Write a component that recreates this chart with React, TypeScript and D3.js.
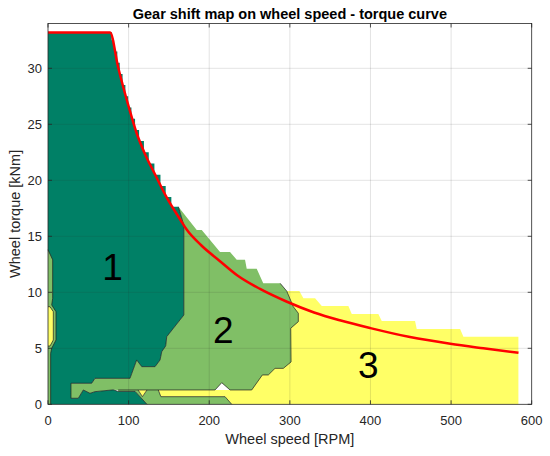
import React from 'react';
import * as d3 from 'd3';

type P = [number, number];

const xTicks = [0, 100, 200, 300, 400, 500, 600];
const yTicks = [0, 5, 10, 15, 20, 25, 30];

// Max torque / constant power curve (RPM, kNm)
const torqueCurve: P[] = [
  [0, 33.2], [77, 33.2], [87, 30.1], [100, 26.6], [110, 24.2], [120, 22.4], [133, 20.5],
  [147, 18.5], [164, 16.5], [172, 15.6], [190, 14.2], [213, 12.8], [235, 11.5], [263, 10.3],
  [295, 9.2], [330, 8.2], [362, 7.5], [400, 6.8], [449, 6.0], [499, 5.4], [540, 5.0], [583.6, 4.6],
];

// Gear 1 (dark green) stepped upper edge
const gear1Top: P[] = [
  [0, 33.25], [79, 33.25], [79, 32.5], [82, 32.5], [82, 31.5], [86, 31.5], [86, 30.5], [89, 30.5],
  [89, 29.5], [92.5, 29.5], [92.5, 28.5], [96, 28.5], [96, 27.5], [99.5, 27.5], [99.5, 26.5],
  [103.5, 26.5], [103.5, 25.5], [108, 25.5], [108, 24.5], [113, 24.5], [113, 23.5], [119, 23.5],
  [119, 22.5], [125, 22.5], [125, 21.5], [132, 21.5], [132, 20.5], [139.5, 20.5], [139.5, 19.5],
  [146, 19.5], [146, 18.5], [153, 18.5], [153, 17.64],
];

// Boundary gear 1 / gear 2
const border12: P[] = [
  [161.7, 17.64], [168.5, 16.0], [168.5, 7.97], [147.3, 6.04], [146, 5.21], [141.1, 4.7], [139, 3.96],
  [132.8, 3.36], [116.3, 3.36], [110, 3.96], [101.7, 2.32], [58.3, 2.32], [54.2, 1.88], [28.5, 1.88],
  [28.5, 0.54], [37.6, 0.54], [43.8, 1.28], [52.1, 0.98], [58.3, 1.13], [81, 1.29], [87, 1.15],
  [108, 1.15], [122.8, 0],
];

// Gear 2 (light green) stepped upper edge
const gear2Top: P[] = [
  [161.7, 17.64], [184.5, 15.56], [190.7, 15.56], [213.4, 13.6], [225.8, 13.6], [234.1, 12.9],
  [244.4, 12.9], [246.5, 12.1], [258.9, 12.1], [267, 10.8], [288, 10.8],
];

// Boundary gear 2 / gear 3
const border23: P[] = [
  [288, 10.8], [296.2, 10.1], [304.3, 8.71], [310.5, 8.13], [310.5, 7.38], [301.1, 6.79],
  [301.5, 3.78], [291.9, 3.21], [281.6, 3.21], [273.3, 2.62], [265.9, 2.62], [252.7, 1.28],
  [225.8, 1.28], [215.5, 1.93], [207.2, 1.28], [87, 1.28],
];

// Gear 3 (yellow) stepped upper edge
const gear3Top: P[] = [
  [583.5, 0], [583.5, 6.04], [515.3, 6.04], [511.2, 6.72], [457.4, 6.72], [455.3, 7.44], [414, 7.44],
  [409.8, 8.06], [376.8, 8.06], [372.6, 8.78], [339.6, 8.78], [331.3, 9.46], [316.8, 9.46],
  [311.8, 10.12], [296.2, 10.12],
];

const gear3Strip: P[] = [[136.8, 1.28], [140, 0.68], [219.6, 0.68], [227.9, 0]];
const gear3Notch: P[] = [[111.7, 1.28], [117.2, 0.68], [122.8, 1.28]];
const gear2LeftStrip: P[] = [
  [0, 13.8], [5.8, 12.9], [5.8, 9.46], [4.6, 8.87], [9.9, 8.27], [9.9, 5.74], [4.6, 5.0], [3.3, 4.55], [3.3, 0],
];
const gear3Pocket: P[] = [[0, 8.71], [2.5, 8.71], [6.6, 8.27], [6.6, 5.74], [2.5, 5.2], [0, 5.2]];

const gearLabels = [
  { text: '1', x: 80, y: 11.1 },
  { text: '2', x: 217.5, y: 5.45 },
  { text: '3', x: 397.3, y: 2.32 },
];

const C1 = '#008066';
const C2 = '#80bf66';
const C3 = '#ffff66';
const AX = '#262626';
const FONT = '"Liberation Sans", Arial, Helvetica, sans-serif';

export default function App() {
  const x = d3.scaleLinear().domain([0, 600]).range([48, 531.7]);
  const y = d3.scaleLinear().domain([0, 34]).range([404.3, 23.5]);
  const line = d3.line<P>().x((d) => x(d[0])).y((d) => y(d[1]));
  const smooth = d3.line<P>().x((d) => x(d[0])).y((d) => y(d[1])).curve(d3.curveMonotoneX);
  const poly = (pts: P[]) => (line(pts) || '') + 'Z';

  const [x0, x1] = x.range();
  const [y0, y1] = y.range();

  const gear3Poly: P[] = [
    ...gear3Strip.slice(1),
    ...gear3Top,
    [250, 10.12], [250, 1.28], gear3Strip[0],
  ];
  const gear2Poly: P[] = [
    ...gear2Top,
    ...border23.slice(1),
    ...border12.slice(0, 20).reverse(),
  ];
  const gear2Bottom: P[] = [
    [87, 1.28], ...gear3Notch, ...gear3Strip, [122.8, 0], [108, 1.15], [87, 1.15],
  ];
  const gear1Poly: P[] = [[0, 0], ...gear1Top, ...border12];
  const leftStripPoly: P[] = [[0, 0], ...gear2LeftStrip];

  const edge = { fill: 'none', stroke: '#1e1e1e', strokeWidth: 0.7 } as const;

  return (
    <svg width={550} height={456} style={{ position: 'absolute', left: 0, top: 0, background: '#fff' }}
      fontFamily={FONT}>
      <rect x={0} y={0} width={550} height={456} fill="#fff" />
      <path d={poly(gear3Poly)} fill={C3} />
      <path d={poly(gear2Poly)} fill={C2} />
      <path d={poly(gear2Bottom)} fill={C2} />
      <path d={poly(gear3Notch)} fill={C3} />
      <path d={poly(gear1Poly)} fill={C1} />
      <path d={poly(leftStripPoly)} fill={C2} />
      <path d={poly(gear3Pocket)} fill={C3} />

      <path d={line(border12) || ''} {...edge} />
      <path d={line(border23) || ''} {...edge} />
      <path d={line(gear3Strip) || ''} {...edge} />
      <path d={line(gear3Notch) || ''} {...edge} />
      <path d={line(gear2LeftStrip) || ''} {...edge} />
      <path d={line(gear3Pocket) || ''} {...edge} />

      {/* grid */}
      {xTicks.slice(1, -1).map((t) => (
        <line key={'gx' + t} x1={x(t)} x2={x(t)} y1={y0} y2={y1} stroke={AX} strokeOpacity={0.13} strokeWidth={1} />
      ))}
      {yTicks.slice(1).map((t) => (
        <line key={'gy' + t} x1={x0} x2={x1} y1={y(t)} y2={y(t)} stroke={AX} strokeOpacity={0.13} strokeWidth={1} />
      ))}

      <path d={smooth(torqueCurve) || ''} fill="none" stroke="#ff0000" strokeWidth={2.5} strokeLinejoin="round" />

      {gearLabels.map((g) => (
        <text key={g.text} x={x(g.x)} y={y(g.y)} textAnchor="middle" fontSize={37} fill="#000">{g.text}</text>
      ))}

      {/* axes box */}
      <rect x={x0} y={y1} width={x1 - x0} height={y0 - y1} fill="none" stroke={AX} strokeWidth={0.8} />
      {xTicks.map((t) => (
        <g key={'tx' + t}>
          <line x1={x(t)} x2={x(t)} y1={y0} y2={y0 - 4} stroke={AX} strokeWidth={0.8} />
          <line x1={x(t)} x2={x(t)} y1={y1} y2={y1 + 4} stroke={AX} strokeWidth={0.8} />
          <text x={x(t)} y={425} textAnchor="middle" fontSize={13} fill={AX}>{t}</text>
        </g>
      ))}
      {yTicks.map((t) => (
        <g key={'ty' + t}>
          <line x1={x0} x2={x0 + 4} y1={y(t)} y2={y(t)} stroke={AX} strokeWidth={0.8} />
          <line x1={x1} x2={x1 - 4} y1={y(t)} y2={y(t)} stroke={AX} strokeWidth={0.8} />
          <text x={42} y={y(t) + 4.6} textAnchor="end" fontSize={13} fill={AX}>{t}</text>
        </g>
      ))}
      <text x={(x0 + x1) / 2} y={444} textAnchor="middle" fontSize={14.5} fill={AX}>Wheel speed [RPM]</text>
      <text transform={`translate(20,${(y0 + y1) / 2}) rotate(-90)`} textAnchor="middle" fontSize={14.5} fill={AX}>Wheel torque [kNm]</text>
      <text x={(x0 + x1) / 2} y={19} textAnchor="middle" fontSize={14.5} fontWeight="bold" fill="#000">Gear shift map on wheel speed - torque curve</text>
    </svg>
  );
}
